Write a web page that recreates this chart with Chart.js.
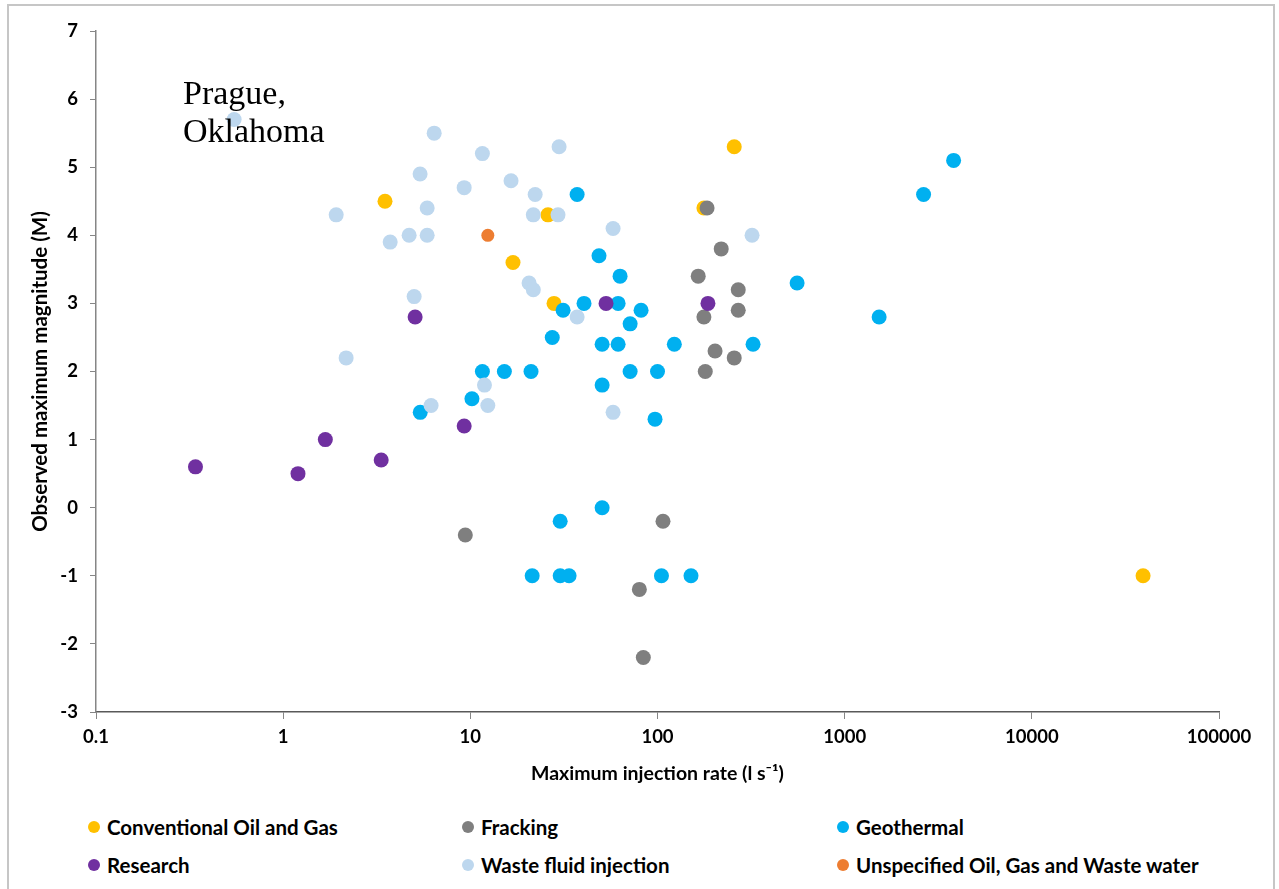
<!DOCTYPE html>
<html>
<head>
<meta charset="utf-8">
<script src="https://cdn.jsdelivr.net/npm/chart.js@4"></script>
<style>
    html, body { margin: 0; padding: 0; background: #fff; }
    body { width: 1279px; height: 889px; position: relative; overflow: hidden; font-family: Lato, sans-serif; }
    .frame { position: absolute; left: 7px; top: 4px; width: 1264px; height: 900px; border: 2px solid #c6c6c6; }
    #chart { position: absolute; left: 0; top: 0; }
    .leg { position: absolute; display: flex; align-items: center; font-size: 20.5px; font-weight: bold; color: #000; white-space: nowrap; }
    .leg i { display: inline-block; width: 12px; height: 12px; border-radius: 50%; margin-right: 7px; }
</style>
</head>
<body>
<div class="frame"></div>
<canvas id="chart" width="1279" height="800"></canvas>
<div id="legend"></div>
<script>
// maximum injection rate (l/s) and observed maximum magnitude, per category
const convRate = [3.5, 26, 16.9, 28, 257, 177, 39300];
const convMag  = [4.5, 4.3, 3.6, 3.0, 5.3, 4.4, -1.0];

const frackRate = [184, 219, 165, 270, 270, 177, 203, 257, 180, 9.4, 107, 80, 84];
const frackMag  = [4.4, 3.8, 3.4, 3.2, 2.9, 2.8, 2.3, 2.2, 2.0, -0.4, -0.2, -1.2, -2.2];

const geoRate = [3820, 2640, 557, 1528, 324, 37.2, 48.7, 63.1, 40.5, 61.6, 31.3, 81.7, 71.4, 27.4, 50.6, 61.6, 123,
                 11.6, 15.2, 21.1, 71.4, 100, 50.6, 10.2, 5.4, 97, 50.6, 30.2, 21.4, 30.2, 33.7, 105, 151];
const geoMag  = [5.1, 4.6, 3.3, 2.8, 2.4, 4.6, 3.7, 3.4, 3.0, 3.0, 2.9, 2.9, 2.7, 2.5, 2.4, 2.4, 2.4,
                 2.0, 2.0, 2.0, 2.0, 2.0, 1.8, 1.6, 1.4, 1.3, 0, -0.2, -1, -1, -1, -1, -1];

const resRate = [0.34, 1.2, 1.68, 3.34, 9.27, 5.07, 53.1, 186];
const resMag  = [0.6, 0.5, 1.0, 0.7, 1.2, 2.8, 3.0, 3.0];

const wasteRate = [0.547, 6.41, 5.39, 1.92, 5.88, 4.71, 5.88, 3.73, 5.01, 2.17, 6.17, 9.27, 11.6, 29.8, 16.5,
                   22.2, 21.7, 29.4, 57.9, 320, 20.6, 21.7, 37.2, 11.9, 12.4, 57.9];
const wasteMag  = [5.7, 5.5, 4.9, 4.3, 4.4, 4.0, 4.0, 3.9, 3.1, 2.2, 1.5, 4.7, 5.2, 5.3, 4.8,
                   4.6, 4.3, 4.3, 4.1, 4.0, 3.3, 3.2, 2.8, 1.8, 1.5, 1.4];

const unspecRate = [12.4];
const unspecMag  = [4.0];

const xTicks = [0.1, 1, 10, 100, 1000, 10000, 100000];
const yMin = -3, yMax = 7;

const series = [
    { label: "Conventional Oil and Gas", rate: convRate, mag: convMag, color: "#FFC000" },
    { label: "Fracking", rate: frackRate, mag: frackMag, color: "#7F7F7F" },
    { label: "Geothermal", rate: geoRate, mag: geoMag, color: "#00B0F0" },
    { label: "Research", rate: resRate, mag: resMag, color: "#7030A0" },
    { label: "Waste fluid injection", rate: wasteRate, mag: wasteMag, color: "#BDD7EE" },
    { label: "Unspecified Oil, Gas and Waste water", rate: unspecRate, mag: unspecMag, color: "#ED7D31" }
];

const datasets = series.map((s, i) => ({
    label: s.label,
    data: s.rate.map((r, j) => ({ x: r, y: s.mag[j] })),
    backgroundColor: s.color,
    borderWidth: 0,
    pointRadius: i === 5 ? 6.5 : 7.5,
    order: series.length - i   // later series on top, like the original
}));

// legend in two rows of three
const legPos = [[88, 827], [462, 827], [837, 827], [88, 865], [462, 865], [837, 865]];
const legend = document.getElementById("legend");
series.forEach((s, i) => {
    const el = document.createElement("div");
    el.className = "leg";
    el.style.left = legPos[i][0] + "px";
    el.style.top = (legPos[i][1] - 12) + "px";
    el.style.height = "24px";
    el.innerHTML = `<i style="background:${s.color}"></i>${s.label}`;
    legend.appendChild(el);
});

const placeNote = {
    id: "placeNote",
    afterDatasetsDraw(chart) {
        const ctx = chart.ctx;
        ctx.save();
        ctx.font = "34px 'Liberation Serif'";
        ctx.fillStyle = "#000";
        ctx.textBaseline = "alphabetic";
        ctx.fillText("Prague,", 183, 104);
        ctx.fillText("Oklahoma", 183, 142);
        ctx.restore();
    }
};

const tickFont = { family: "Lato", size: 18.5, weight: "bold" };

new Chart(document.getElementById("chart"), {
    type: "scatter",
    data: { datasets },
    plugins: [placeNote],
    options: {
        responsive: false,
        animation: false,
        events: [],
        layout: { padding: { left: 28, top: 31, right: 60, bottom: 15 } },
        plugins: { legend: { display: false }, tooltip: { enabled: false } },
        scales: {
            x: {
                type: "logarithmic",
                min: 0.1,
                max: 100000,
                afterBuildTicks: (scale) => { scale.ticks = xTicks.map(v => ({ value: v })); },
                afterFit: (scale) => { scale.height = 800 - 15 - 712; },
                ticks: {
                    color: "#000",
                    font: tickFont,
                    padding: 7,
                    maxRotation: 0,
                    callback: (v) => String(v)
                },
                grid: { drawOnChartArea: false, drawTicks: true, tickLength: 7, color: "#868686" },
                border: { color: "#595959", width: 1.5 },
                title: {
                    display: true,
                    text: "Maximum injection rate (l s\u207B\u00B9)",
                    color: "#000",
                    font: { family: "Lato", size: 19.5, weight: "bold" },
                    padding: { top: 0, bottom: 0 }
                }
            },
            y: {
                min: yMin,
                max: yMax,
                afterFit: (scale) => { scale.width = 96 - 28; },
                ticks: { stepSize: 1, color: "#000", font: tickFont, padding: 12 },
                grid: { drawOnChartArea: false, drawTicks: true, tickLength: 6, color: "#868686" },
                border: { color: "#868686", width: 1.5 },
                title: {
                    display: true,
                    text: "Observed maximum magnitude (M)",
                    color: "#000",
                    font: { family: "Lato", size: 20.5, weight: "bold" },
                    padding: { top: 0, bottom: 0 }
                }
            }
        }
    }
});
</script>
</body>
</html>
